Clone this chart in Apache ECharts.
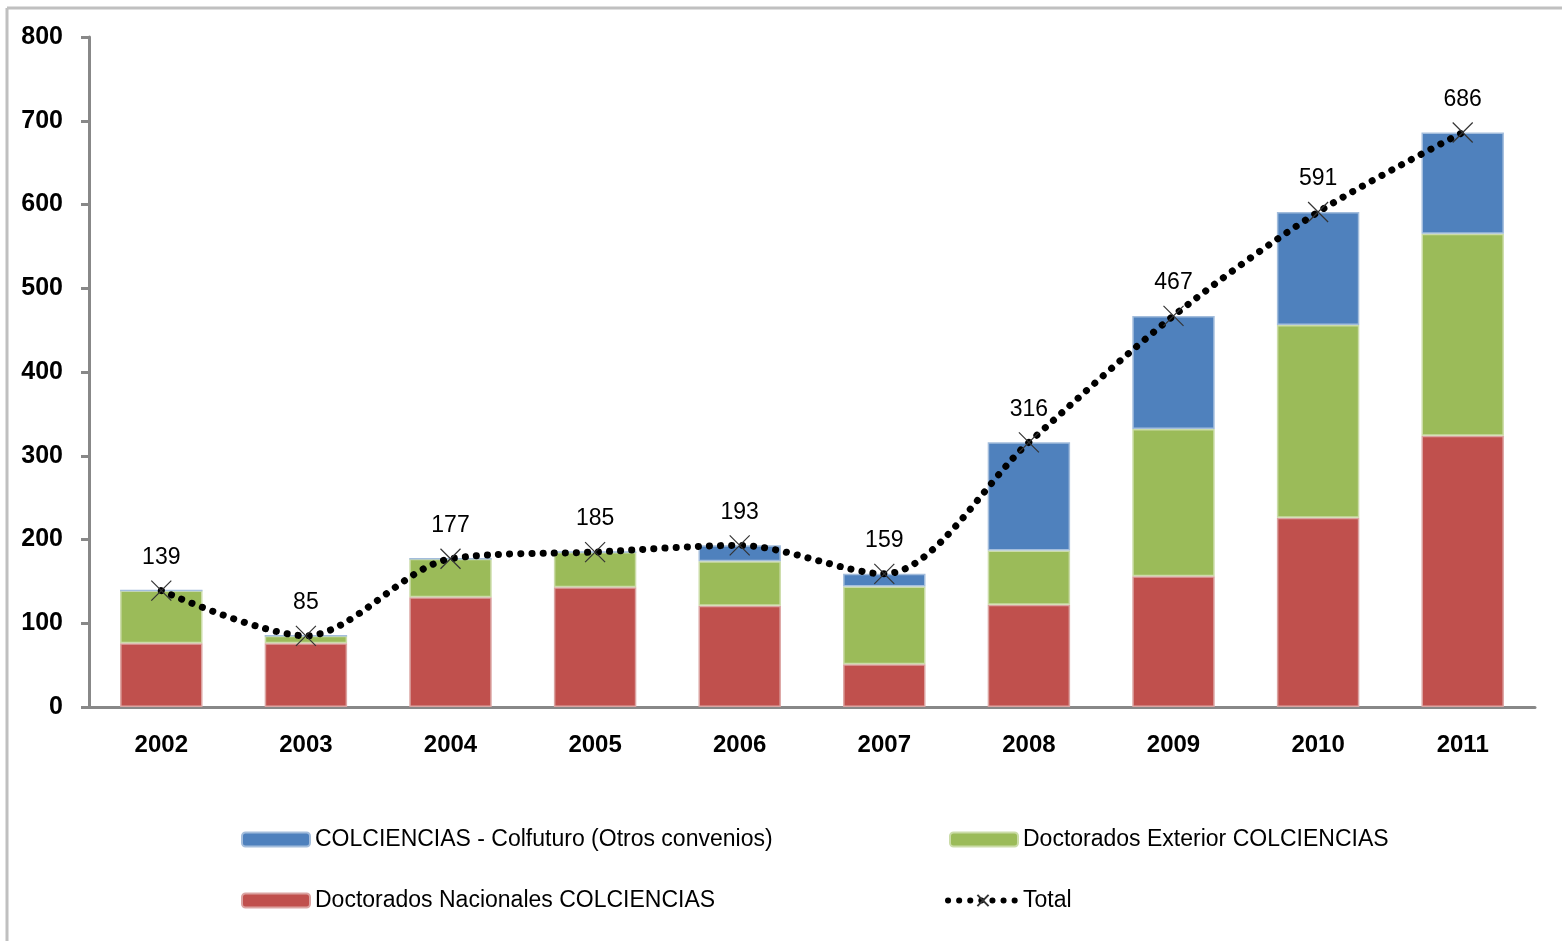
<!DOCTYPE html>
<html>
<head>
<meta charset="utf-8">
<script src="https://cdn.jsdelivr.net/npm/echarts@6/dist/echarts.min.js"></script>
<style>html,body{margin:0;padding:0;background:#fff;}#c{width:1562px;height:941px;}</style>
</head>
<body>
<div id="c"></div>
<script>
var years = ['2002','2003','2004','2005','2006','2007','2008','2009','2010','2011'];
var nacionales = [76, 76, 131, 143, 121, 51, 122, 156, 226, 324];
var exterior = [63, 9, 46, 42, 53, 93, 65, 176, 230, 241];
var colfuturo = [0, 0, 0, 0, 19, 15, 129, 135, 135, 121];
var total = [139, 85, 177, 185, 193, 159, 316, 467, 591, 686];
var yTicks = [0, 100, 200, 300, 400, 500, 600, 700, 800];

var names = {
  blue: 'COLCIENCIAS - Colfuturo (Otros convenios)',
  green: 'Doctorados Exterior COLCIENCIAS',
  red: 'Doctorados Nacionales COLCIENCIAS',
  total: 'Total'
};
var font = 'Liberation Sans, Arial, sans-serif';
var chart = echarts.init(document.getElementById('c'), null, {renderer: 'canvas'});
var xPath = 'path://M0,0L20,20M20,0L0,20';
function legend(name, left, top, w) {
  return {
    data: [name], left: left, top: top, orient: 'horizontal', padding: 0,
    itemWidth: w || 68, itemHeight: 14, itemGap: 8, selectedMode: false,
    textStyle: {fontFamily: font, fontSize: 23, color: '#000', letterSpacing: -1}
  };
}
var totalLegend = legend(names.total, 945, 889, 70);
totalLegend.lineStyle = {width: 6, type: [0.1, 11], cap: 'round', color: '#000'};
chart.setOption({
  animation: false,
  backgroundColor: '#fff',
  graphic: [
    {type: 'line', shape: {x1: 7, y1: 8, x2: 1562, y2: 8}, style: {stroke: '#c0c0c0', lineWidth: 3}},
    {type: 'line', shape: {x1: 7, y1: 8, x2: 7, y2: 941}, style: {stroke: '#c0c0c0', lineWidth: 3}}
  ],
  grid: {left: 89, right: 27, top: 37, bottom: 234, containLabel: false},
  legend: [
    legend(names.blue, 241, 828),
    legend(names.green, 949, 828),
    legend(names.red, 241, 889),
    totalLegend
  ],
  xAxis: {
    type: 'category', data: years,
    axisLine: {lineStyle: {color: '#888', width: 3}},
    axisTick: {show: false},
    axisLabel: {fontFamily: font, fontSize: 24, fontWeight: 'bold', color: '#000', margin: 26, letterSpacing: -1.5}
  },
  yAxis: {
    type: 'value', min: 0, max: 800, interval: 100,
    splitLine: {show: false},
    axisLine: {show: true, lineStyle: {color: '#888', width: 3}},
    axisTick: {show: true, length: 8, lineStyle: {color: '#888', width: 3}},
    axisLabel: {fontFamily: font, fontSize: 25, fontWeight: 'bold', color: '#000', margin: 26, letterSpacing: -1.5,
      formatter: function(v){ return yTicks.indexOf(v) >= 0 ? String(v) : ''; }}
  },
  series: [
    {name: names.red, type: 'bar', stack: 's', data: nacionales, barWidth: '57%',
     itemStyle: {color: '#C0504D', borderColor: '#dba3a1', borderWidth: 1.5}},
    {name: names.green, type: 'bar', stack: 's', data: exterior,
     itemStyle: {color: '#9BBB59', borderColor: '#cbdca8', borderWidth: 1.5}},
    {name: names.blue, type: 'bar', stack: 's', data: colfuturo,
     itemStyle: {color: '#4F81BD', borderColor: '#a3bddc', borderWidth: 1.5}},
    {name: names.total, type: 'line', data: total, smooth: 0.3, z: 5,
     symbol: xPath, symbolSize: 20, showAllSymbol: true,
     lineStyle: {color: '#000', width: 7, type: [0.1, 11], cap: 'round'},
     itemStyle: {color: 'none', borderColor: '#333', borderWidth: 1.2},
     label: {show: true, position: 'top', distance: 9, fontFamily: font, fontSize: 23, color: '#000'}}
  ]
});
</script>
</body>
</html>
